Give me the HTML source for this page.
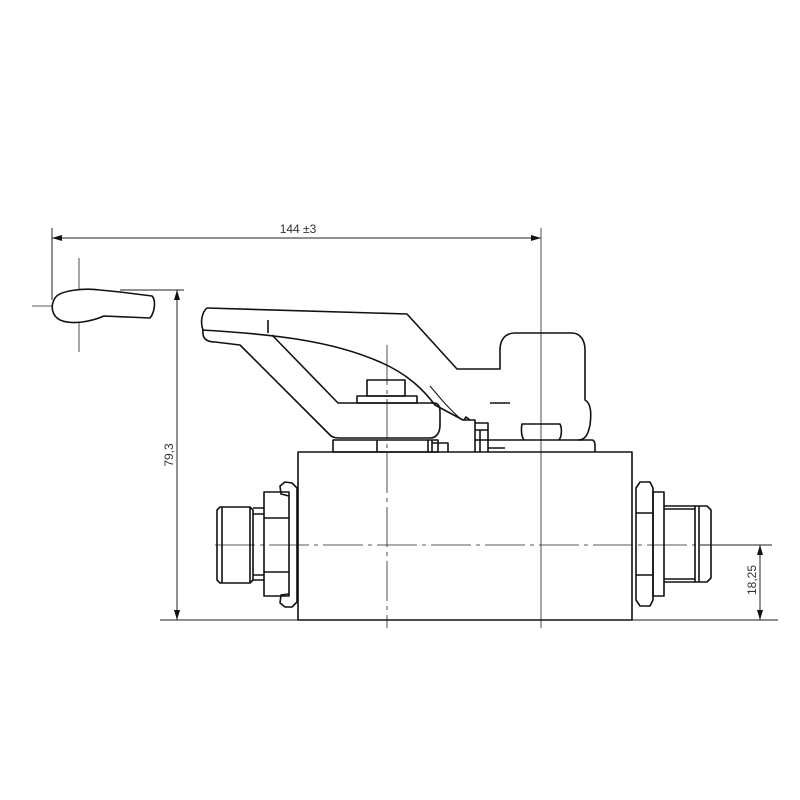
<!DOCTYPE html>
<html><head><meta charset="utf-8"><style>
html,body{margin:0;padding:0;background:#fff;}
svg{display:block}
text{font-family:"Liberation Sans",sans-serif;fill:#333}
</style></head><body>
<svg width="800" height="800" viewBox="0 0 800 800" xmlns="http://www.w3.org/2000/svg">
<defs>
<marker id="a" viewBox="0 0 10 6" refX="10" refY="3" markerWidth="10" markerHeight="6" orient="auto-start-reverse" markerUnits="userSpaceOnUse"><path d="M0,0L10,3L0,6z" fill="#111"/></marker>
</defs>
<g stroke="#222" fill="none" stroke-width="1">
<!-- dimension 144 -->
<line x1="52" y1="228" x2="52" y2="300"/>
<line x1="52" y1="238" x2="541" y2="238" marker-start="url(#a)" marker-end="url(#a)"/>
<!-- 79,3 -->
<line x1="120" y1="290" x2="184" y2="290"/>
<line x1="177" y1="290" x2="177" y2="620" marker-start="url(#a)" marker-end="url(#a)"/>
<line x1="160" y1="620" x2="778" y2="620"/>
<!-- 18,25 -->
<line x1="700" y1="545" x2="772" y2="545"/>
<line x1="760" y1="545" x2="760" y2="620" marker-start="url(#a)" marker-end="url(#a)"/>
<!-- center lines -->
<line x1="215" y1="545" x2="722" y2="545" stroke-dasharray="40 5 4 5" stroke-width="0.8"/>
<line x1="387" y1="345" x2="387" y2="628" stroke-dasharray="40 5 4 5" stroke-width="0.8"/>
<line x1="541" y1="228" x2="541" y2="628" stroke-width="0.8"/>
<!-- small handle -->
<line x1="79" y1="258" x2="79" y2="352" stroke-width="0.8"/>
<line x1="32" y1="306" x2="125" y2="306" stroke-width="0.8"/>
</g>
<g stroke="#111" fill="none" stroke-width="1.6" stroke-linejoin="round">
<path d="M100,290 C85,288 60,290 55,298 C50,306 52,316 60,320 C72,325 90,322 104,316 L150,318 C155,312 156,300 152,296 L120,292 Z" fill="#fff"/>
<!-- body -->
<rect x="298" y="452" width="334" height="168"/>
<!-- left fitting -->
<path d="M220,507 L250,507 L253,510 L253,580 L250,583 L220,583 L217,580 L217,510 Z"/>
<line x1="222" y1="507" x2="222" y2="583"/>
<line x1="250" y1="507" x2="250" y2="583"/>
<path d="M253,508 L264,508 M253,580 L264,580 M253,514 L264,514 M253,575 L264,575"/>
<rect x="264" y="492" width="25" height="104"/>
<line x1="264" y1="518" x2="289" y2="518"/>
<line x1="264" y1="572" x2="289" y2="572"/>
<path d="M289,496 L281,494 L280,486 L285,482 L292,483 L297,488 L297,602 L292,607 L285,607 L280,603 L281,595 L289,594"/>
<!-- right fitting -->
<path d="M640,482 L650,482 L653,488 L653,600 L650,606 L640,606 L636,600 L636,488 Z"/>
<line x1="636" y1="513" x2="653" y2="513"/>
<line x1="636" y1="575" x2="653" y2="575"/>
<rect x="653" y="492" width="11" height="104"/>
<path d="M664,506 L707,506 L711,510 L711,578 L707,582 L664,582"/>
<line x1="664" y1="509" x2="695" y2="509"/>
<line x1="664" y1="579" x2="695" y2="579"/>
<line x1="695" y1="506" x2="695" y2="582"/>
<line x1="699" y1="506" x2="699" y2="582"/>
<!-- handle -->
<path d="M207,308 L407,314 L457,369 L500,369 L500,350 C500,340 505,333 515,333 L572,333 C580,333 585,340 585,350 L585,400 C590,403 592,410 590,425 C588,435 585,440 578,440"/>
<path d="M207,308 C202,312 200,322 203,330 C202,338 206,342 215,342 L240,345 L330,435 C333,438 337,438 340,438 L430,438 C437,438 440,432 440,425 L440,412 C440,402 435,403 430,403 L338,403 L272,335"/>
<path d="M202,330 C270,334 330,340 380,362 C410,375 425,392 435,405 L463,420 L470,420"/>
<line x1="268" y1="320" x2="268" y2="333"/>
<path d="M430,386 C440,398 450,410 462,420" stroke-width="1"/>
<rect x="367" y="380" width="38" height="16"/>
<rect x="357" y="396" width="60" height="7"/>
<!-- base plates -->
<rect x="333" y="440" width="105" height="12"/>
<line x1="377" y1="440" x2="377" y2="452"/>
<path d="M428,440 L428,452 M432,440 L432,452 M432,443 L448,443 L448,452"/>
<path d="M464,420 L466,417 L470,420 L475,420 L475,423 L488,423 L488,452 M475,423 L475,452 M480,430 L480,452 M475,430 L488,430 M475,440 L488,440 M488,448 L505,448"/>
<path d="M488,440 L592,440 C595,440 595,444 595,446 L595,452"/>
<path d="M524,440 C521,436 521,428 522,424 L560,424 C562,428 562,436 559,440"/>
<line x1="490" y1="403" x2="510" y2="403"/>
</g>
<text x="298" y="233" font-size="12" text-anchor="middle">144 ±3</text>
<text transform="translate(173,455) rotate(-90)" font-size="12" text-anchor="middle">79,3</text>
<text transform="translate(756,580) rotate(-90)" font-size="12" text-anchor="middle">18,25</text>
</svg>
</body></html>
